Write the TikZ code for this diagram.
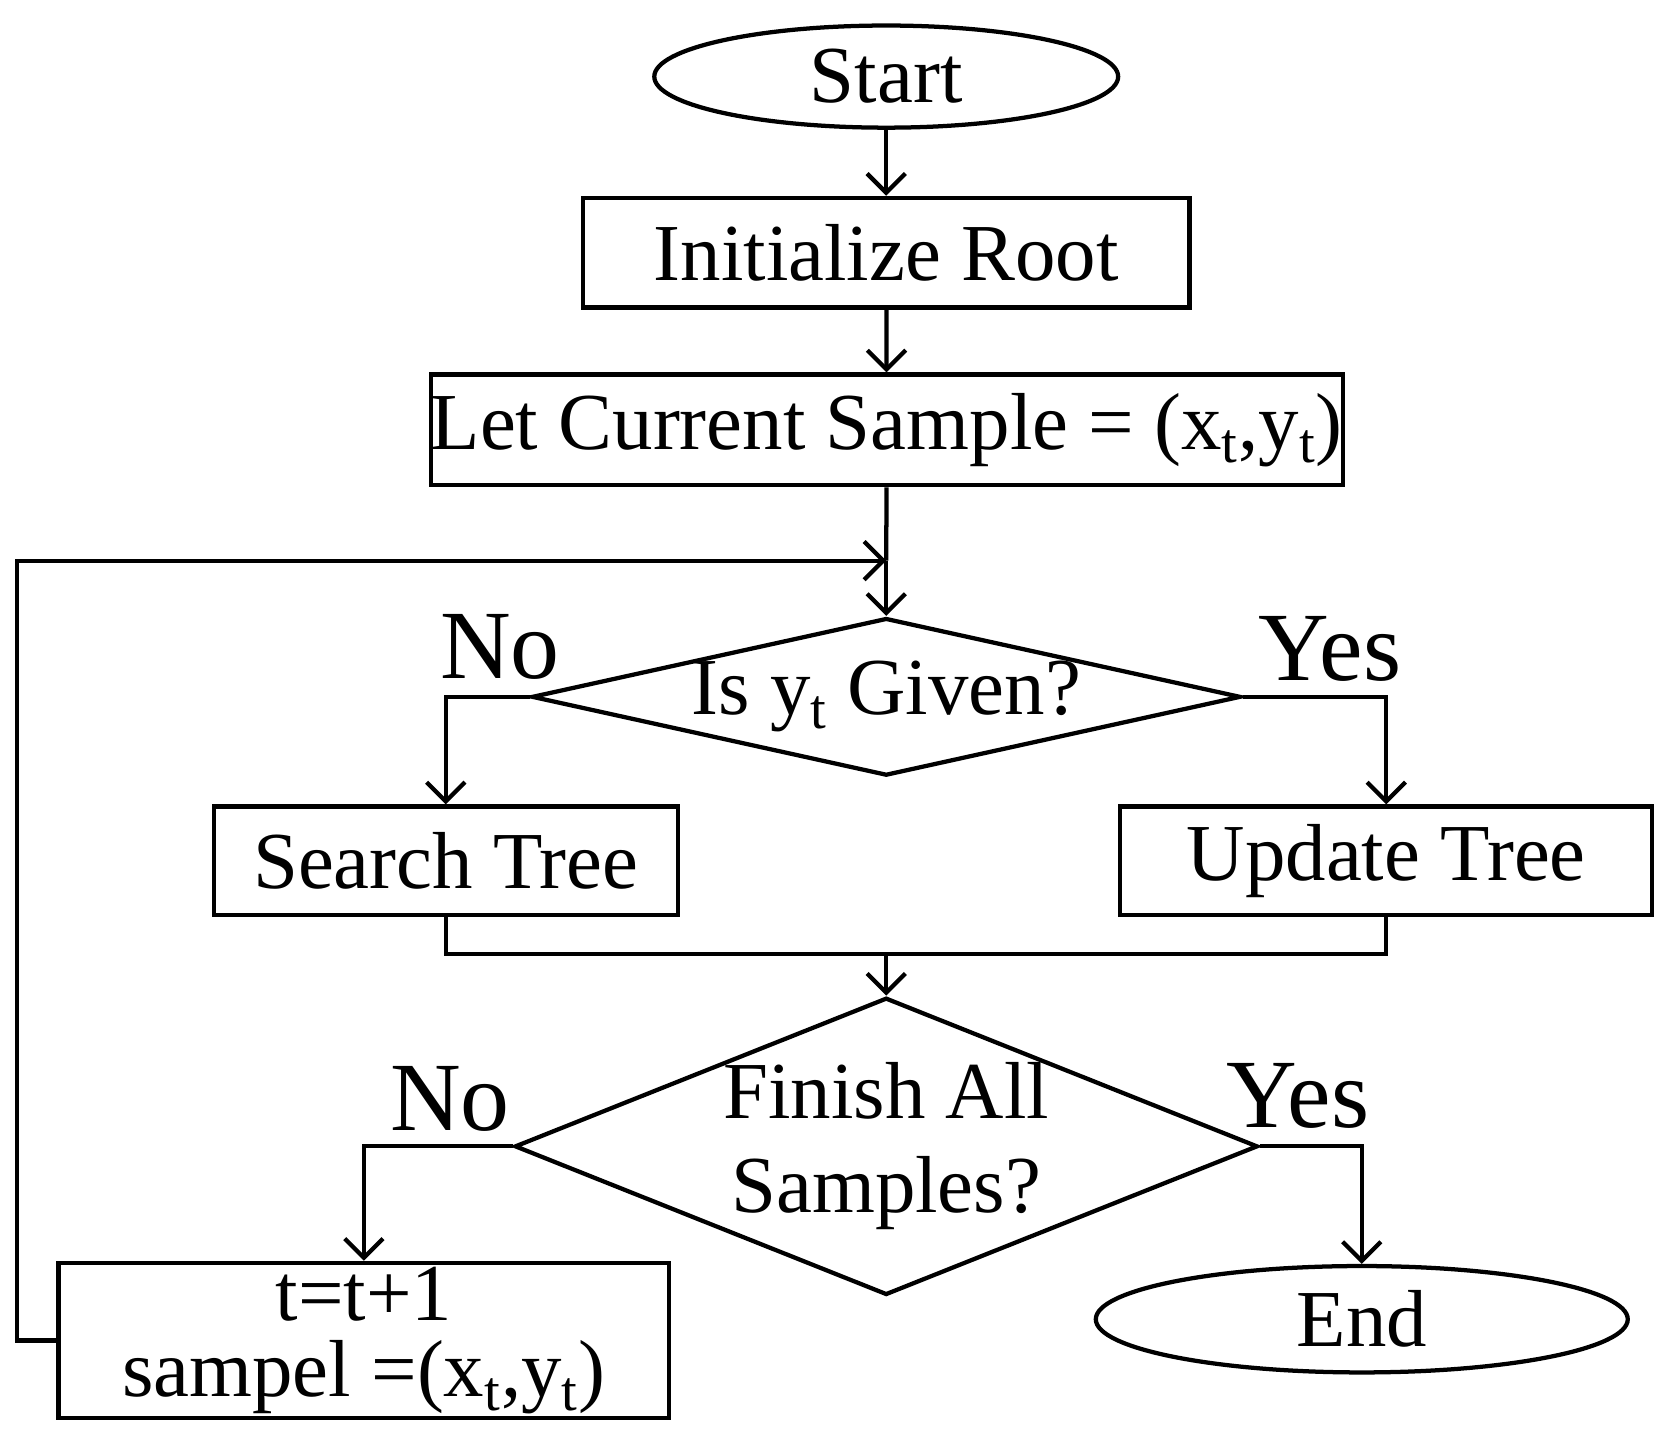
\documentclass[tikz,border=0pt]{standalone}
\usepackage{fontspec}
\setmainfont{Liberation Serif}
\usetikzlibrary{shapes.geometric,arrows.meta}
\begin{document}
\begin{tikzpicture}[x=0.5pt,y=-0.5pt,line width=2pt,
  every node/.style={font=\fontsize{38}{44}\selectfont},
  box/.style={draw,rectangle,inner sep=0pt},
  arr/.style={-{Straight Barb[length=9pt,width=18pt,line width=2pt]}},
  lbl/.style={font=\fontsize{46}{50}\selectfont}]
\useasboundingbox (0,0) rectangle (1565,1353);
\node[draw,ellipse,minimum width=436\pgflinewidth/4,inner sep=0pt,minimum width=218pt,minimum height=48pt] (start) at (833,72) {Start};
\node[box,minimum width=285pt,minimum height=51.5pt] (init) at (833,237.5) {Initialize Root};
\node[box,minimum width=409.5pt,minimum height=52pt] (let) at (833.5,404) {Let Current Sample = (x\textsubscript{t},y\textsubscript{t})};
\node[draw,diamond,aspect=4.5,inner sep=0pt,minimum width=286pt,minimum height=63pt] (d1) at (833,655) {Is y\textsubscript{t} Given?};
\node[box,minimum width=218pt,minimum height=51pt] (search) at (419,809) {Search Tree};
\node[box,minimum width=250pt,minimum height=51pt] (update) at (1303,809) {Update Tree};
\node[draw,diamond,aspect=2.5,inner sep=0pt,minimum width=285pt,minimum height=114.5pt,align=center] (d2) at (833,1077.5) {Finish All\\Samples?};
\node[box,minimum width=287pt,minimum height=73pt,align=center,font=\fontsize{38}{36}\selectfont] (tb) at (342,1260) {t=t+1\\sampel =(x\textsubscript{t},y\textsubscript{t})};
\node[draw,ellipse,inner sep=0pt,minimum width=250pt,minimum height=50pt] (end) at (1280,1240) {End};
\coordinate (loop) at (833,527);
\coordinate (merge) at (833,897);
\draw[arr] (start) -- (init);
\draw[arr] (init) -- (let);
\draw (let) -- (loop);
\draw[arr] (loop) -- (d1.north);
\draw[arr] (tb.west) -- ++(-37,0) |- (loop);
\draw[arr] (d1.west) -| (search.north);
\draw[arr] (d1.east) -| (update.north);
\draw (search.south) |- (merge) -| (update.south);
\draw[arr] (merge) -- (d2.north);
\draw[arr] (d2.west) -| (tb.north);
\draw[arr] (d2.east) -| (end.north);
\node[lbl] (n1) at (470,608) {No};
\node[lbl] (y1) at (1250,610) {Yes};
\node[lbl] (n2) at (423,1033) {No};
\node[lbl] (y2) at (1220,1030) {Yes};
\end{tikzpicture}
\end{document}
